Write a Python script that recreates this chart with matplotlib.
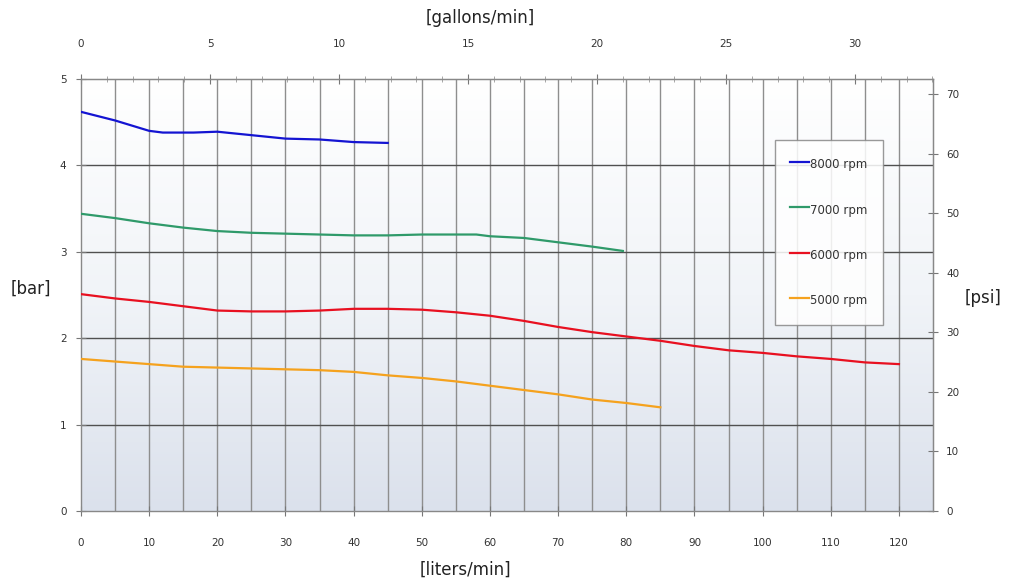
import numpy as np
import matplotlib
matplotlib.use("Agg")
import matplotlib.pyplot as plt
from matplotlib.colors import LinearSegmentedColormap

# ---- data (liters/min vs bar) ----
x_8000 = [0, 5, 10, 12, 16.5, 20, 25, 30, 35, 40, 45]
y_8000 = [4.62, 4.52, 4.40, 4.38, 4.38, 4.39, 4.35, 4.31, 4.30, 4.27, 4.26]

x_7000 = [0, 5, 10, 15, 20, 25, 30, 35, 40, 45, 50, 55, 58, 60, 65, 70, 75, 79.5]
y_7000 = [3.44, 3.39, 3.33, 3.28, 3.24, 3.22, 3.21, 3.20, 3.19, 3.19, 3.20, 3.20, 3.20, 3.18, 3.16, 3.11, 3.06, 3.01]

x_6000 = [0, 5, 10, 15, 20, 25, 30, 35, 40, 45, 50, 55, 60, 65, 70, 75, 80, 85, 90, 95, 100, 105, 110, 115, 120]
y_6000 = [2.51, 2.46, 2.42, 2.37, 2.32, 2.31, 2.31, 2.32, 2.34, 2.34, 2.33, 2.30, 2.26, 2.20, 2.13, 2.07, 2.02, 1.97, 1.91, 1.86, 1.83, 1.79, 1.76, 1.72, 1.70]

x_5000 = [0, 5, 10, 15, 20, 25, 30, 35, 40, 45, 50, 55, 60, 65, 70, 75, 80, 85]
y_5000 = [1.76, 1.73, 1.70, 1.67, 1.66, 1.65, 1.64, 1.63, 1.61, 1.57, 1.54, 1.50, 1.45, 1.40, 1.35, 1.29, 1.25, 1.20]

series_labels = ["8000 rpm", "7000 rpm", "6000 rpm", "5000 rpm"]
series_colors = ["#1414d2", "#2f9a6a", "#e81020", "#f5a21e"]

bottom_ticks = list(range(0, 121, 10))
left_ticks = [0, 1, 2, 3, 4, 5]
top_ticks = [0, 5, 10, 15, 20, 25, 30]
right_ticks = [0, 10, 20, 30, 40, 50, 60, 70]

L_PER_GAL = 3.78541
PSI_PER_BAR = 14.5038

fig = plt.figure(figsize=(10.13, 5.84), dpi=100)
ax = fig.add_axes([81/1013, 1-511/584, 852/1013, 432/584])
ax.set_xlim(0, 125)
ax.set_ylim(0, 5)

# gradient background
cmap = LinearSegmentedColormap.from_list("bg", ["#ffffff", "#f1f4f8", "#dbe1ec"])
grad = np.linspace(1, 0, 256).reshape(-1, 1)
ax.imshow(1 - grad, cmap=cmap, aspect="auto", extent=[0, 1, 0, 1],
          transform=ax.transAxes, zorder=0)

# grid
for gx in np.arange(5, 125, 5):
    ax.axvline(gx, color="#8e8e8e", lw=1.0, zorder=1)
for gy in [1, 2, 3, 4]:
    ax.axhline(gy, color="#505050", lw=1.0, zorder=1)

xs = [x_8000, x_7000, x_6000, x_5000]
ys = [y_8000, y_7000, y_6000, y_5000]
for xv, yv, lab, col in zip(xs, ys, series_labels, series_colors):
    ax.plot(xv, yv, color=col, lw=1.6, label=lab, zorder=3)

for s in ax.spines.values():
    s.set_color("#888888")
    s.set_linewidth(1.0)

tick_kw = dict(labelsize=7.5, labelcolor="#333333", color="#777777", direction="inout", length=7)
ax.set_xticks(bottom_ticks)
ax.set_yticks(left_ticks)
ax.tick_params(axis="both", **tick_kw)
ax.tick_params(axis="x", pad=16)
ax.tick_params(axis="y", pad=7)

top = ax.secondary_xaxis("top", functions=(lambda v: v / L_PER_GAL, lambda v: v * L_PER_GAL))
top.set_xticks(top_ticks)
top.set_xticks(np.arange(0, 34, 1), minor=True)
top.tick_params(axis="x", which="major", pad=18, **tick_kw)
top.tick_params(axis="x", which="minor", direction="inout", length=4, color="#999999")
top.spines["top"].set_color("#888888")

right = ax.secondary_yaxis("right", functions=(lambda v: v * PSI_PER_BAR, lambda v: v / PSI_PER_BAR))
right.set_yticks(right_ticks)
right.tick_params(axis="y", pad=6, **tick_kw)
right.spines["right"].set_color("#888888")

lab_kw = dict(fontsize=12, color="#222222")
fig.text(480/1013, 1-18/584, "[gallons/min]", ha="center", va="center", **lab_kw)
fig.text(465/1013, 1-570/584, "[liters/min]", ha="center", va="center", **lab_kw)
fig.text(31/1013, 1-289/584, "[bar]", ha="center", va="center", **lab_kw)
fig.text(983/1013, 1-298/584, "[psi]", ha="center", va="center", **lab_kw)

leg = ax.legend(loc="upper left", bbox_to_anchor=((775-81)/852, (511-140)/432),
                frameon=True, fancybox=False, fontsize=8.5, labelspacing=2.3,
                handlelength=1.55, handleheight=2.0, handletextpad=0.15,
                borderpad=1.3, borderaxespad=0)
leg.get_frame().set_edgecolor("#888888")
leg.get_frame().set_facecolor("#ffffff")
leg.get_frame().set_alpha(0.85)
leg.get_frame().set_linewidth(1.0)
for t in leg.get_texts():
    t.set_color("#333333")

fig.savefig("out.png", dpi=100)
